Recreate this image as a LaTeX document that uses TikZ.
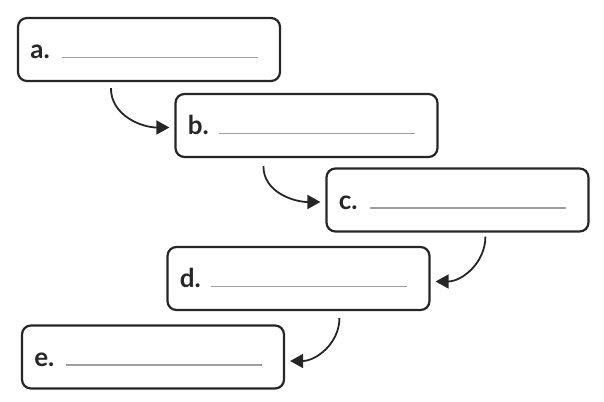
\documentclass[tikz,border=0pt]{standalone}
\usepackage{fontspec}
\setmainfont{Lato}
\usetikzlibrary{arrows.meta}

\begin{document}
\begin{tikzpicture}[x=0.5pt,y=-0.5pt,>={Triangle[length=6.5pt,width=7pt]}]

\useasboundingbox (0,0) rectangle (604,401);

% Boxes with blanks
\foreach \n/\x/\y in {a/149/49.5,b/306.5/125.5,c/457.5/200,d/298.5/278.5,e/153/357}{
    \node[draw=black!85,line width=1.1pt,rounded corners=4.5pt,
        minimum width=131pt,minimum height=31.5pt] (\n) at (\x,\y) {};
    \node[anchor=base west,inner sep=0pt,font=\bfseries\fontsize{13}{15}\selectfont,black!85]
        (l\n) at ([shift={(13,9)}]\n.west) {\n.};
    \draw[gray!75,line width=0.7pt]
        ([shift={(45,8)}]\n.west) -- ([shift={(241,8)}]\n.west);
}

% Arrows
\draw[->,line width=0.9pt,black!85]
    ([shift={(94,6)}]a.south west) to[out=-90,in=180] ([shift={(-5,2)}]b.west);
\draw[->,line width=0.9pt,black!85]
    ([shift={(89,8)}]b.south west) to[out=-90,in=180] ([shift={(-5,2)}]c.west);
\draw[->,line width=0.9pt,black!85]
    ([shift={(160,4)}]c.south west) to[out=-90,in=0] ([shift={(5,3)}]d.east);
\draw[->,line width=0.9pt,black!85]
    ([shift={(173,7)}]d.south west) to[out=-90,in=0] ([shift={(5,4)}]e.east);

\end{tikzpicture}
\end{document}
